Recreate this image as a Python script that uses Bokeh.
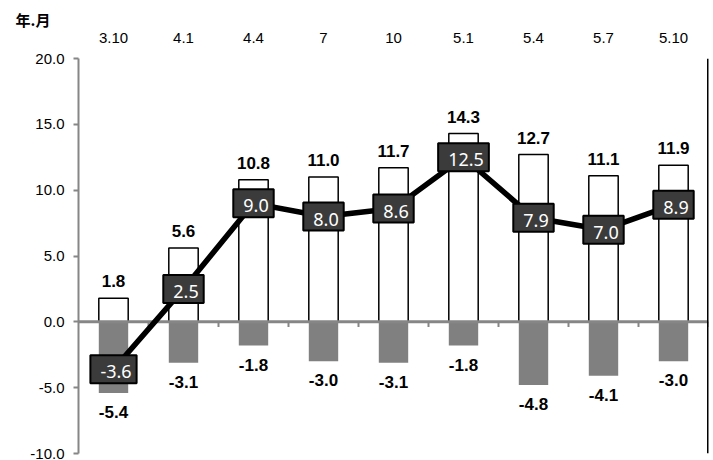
from bokeh.plotting import figure
from bokeh.models import FixedTicker, PrintfTickFormatter, Span, ColumnDataSource
from bokeh.core.properties import value
from bokeh.embed import file_html
from bokeh.resources import INLINE

categories = ["3.10", "4.1", "4.4", "7", "10", "5.1", "5.4", "5.7", "5.10"]
white_vals = [1.8, 5.6, 10.8, 11.0, 11.7, 14.3, 12.7, 11.1, 11.9]
gray_vals = [-5.4, -3.1, -1.8, -3.0, -3.1, -1.8, -4.8, -4.1, -3.0]
line_vals = [-3.6, 2.5, 9.0, 8.0, 8.6, 12.5, 7.9, 7.0, 8.9]
y_ticks = [-10, -5, 0, 5, 10, 15, 20]

n = len(categories)
xs = list(range(n))
x_lo, x_hi = -0.5, n - 0.5
y_lo, y_hi = min(y_ticks), max(y_ticks)

AX = "#868686"
NUMFONT = "'Liberation Sans', Arial, sans-serif"

p = figure(width=712, height=460, x_range=(x_lo, x_hi), y_range=(y_lo, y_hi),
           x_axis_location="above", output_backend="svg", toolbar_location=None,
           title="年.月",
           min_border_left=78, min_border_right=4, min_border_top=58, min_border_bottom=7)
p.outline_line_color = None
p.xgrid.visible = False
p.ygrid.visible = False
p.background_fill_color = "white"
p.border_fill_color = "white"

p.title.align = "left"
p.title.offset = -63
p.title.standoff = 0
p.title.text_font = "Noto Sans CJK SC"
p.title.text_font_style = "bold"
p.title.text_font_size = "15px"
p.title.text_color = "black"

xa = p.xaxis[0]
xa.ticker = FixedTicker(ticks=xs)
xa.major_label_overrides = {i: c for i, c in enumerate(categories)}
xa.axis_line_color = None
xa.major_tick_line_color = None
xa.minor_tick_line_color = None
xa.major_label_standoff = 10
xa.major_label_text_font = NUMFONT
xa.major_label_text_font_size = "15px"
xa.major_label_text_color = "black"

ya = p.yaxis[0]
ya.ticker = FixedTicker(ticks=y_ticks)
ya.formatter = PrintfTickFormatter(format="%.1f")
ya.axis_line_color = AX
ya.axis_line_width = 2
ya.major_tick_line_color = AX
ya.major_tick_line_width = 2
ya.major_tick_out = 5
ya.major_tick_in = 0
ya.minor_tick_line_color = None
ya.major_label_standoff = 9
ya.major_label_text_font = NUMFONT
ya.major_label_text_font_size = "15px"
ya.major_label_text_color = "black"

src = ColumnDataSource(dict(
    x=xs, w=white_vals, g=gray_vals, l=line_vals,
    wl=["%.1f" % v for v in white_vals],
    gl=["%.1f" % v for v in gray_vals],
    ll=["%.1f" % v for v in line_vals],
))

p.vbar(x="x", top="w", bottom=0, width=0.42, source=src,
       fill_color="white", line_color="black", line_width=1.5)
p.vbar(x="x", top=0, bottom="g", width=0.42, source=src,
       fill_color="#808080", line_color=None)

p.segment(x0=[x_lo], x1=[x_hi], y0=[0], y1=[0], line_color=AX, line_width=3)
bounds = [i + 0.5 for i in range(n)]
p.segment(x0=bounds, x1=bounds, y0=[0] * n, y1=[-0.4] * n, line_color=AX, line_width=2)

p.add_layout(Span(location=x_hi, dimension="height", line_color="black", line_width=3))

p.text(x="x", y="w", text="wl", source=src, text_align="center", text_baseline="bottom",
       y_offset=-11, text_font=value(NUMFONT), text_font_style="bold",
       text_font_size="17px", text_color="black")
p.text(x="x", y="g", text="gl", source=src, text_align="center", text_baseline="top",
       y_offset=13, text_font=value(NUMFONT), text_font_style="bold",
       text_font_size="17px", text_color="black")

p.line(x="x", y="l", source=src, line_color="black", line_width=5.5)
p.text(x="x", y="l", text="ll", source=src, text_align="center", text_baseline="middle",
       text_font=value("Noto Sans"), text_font_size="18px", text_color="white",
       background_fill_color="#3b3b3b", border_line_color="black", border_line_width=2,
       padding=(10, 5, 10, 5))

open("out.html", "w").write(file_html(p, INLINE))
